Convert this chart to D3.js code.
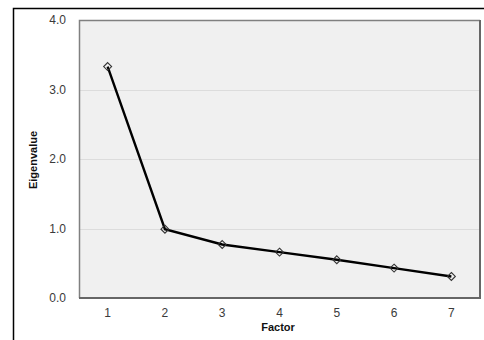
<!DOCTYPE html>
<html lang="en">
  <head>
    <meta charset="UTF-8"/>
    <title>Scree plot</title>
    <script src="https://d3js.org/d3.v7.min.js"></script>
    <style>
        body { margin: 0; background: #fff; }
        svg { display: block; font-family: "Liberation Sans", Arial, sans-serif; }
        .tick text { font-size: 12px; fill: #3a3a3a; }
        .axis path, .axis line { display: none; }
        .grid line { stroke: #dcdcdc; stroke-width: 1; }
        .label { font-size: 11px; font-weight: bold; fill: #111; }
    </style>
  </head>
  <body>
    <script>
        const factors = [1, 2, 3, 4, 5, 6, 7]
        const eigenvalues = [3.33, 0.99, 0.77, 0.66, 0.55, 0.43, 0.31]
        const yTicks = [0, 1, 2, 3, 4]

        const W = 484, H = 340
        const plot = {left: 79, top: 20, right: 480, bottom: 298}

        const svg = d3.select("body").append("svg")
            .attr("width", W)
            .attr("height", H)

        // outer frame (only top & left edges visible in the crop)
        svg.append("path")
            .attr("d", `M13.5,${H} V8.5 H${W}`)
            .attr("fill", "none")
            .attr("stroke", "#000")
            .attr("stroke-width", 1.5)

        const x = d3.scaleBand()
            .domain(factors)
            .range([plot.left, plot.right])

        const y = d3.scaleLinear()
            .domain([0, 4])
            .range([plot.bottom, plot.top])

        // plot area
        svg.append("rect")
            .attr("x", plot.left)
            .attr("y", plot.top)
            .attr("width", plot.right - plot.left)
            .attr("height", plot.bottom - plot.top)
            .attr("fill", "#f0f0f0")

        svg.append("g")
            .attr("class", "grid")
            .selectAll("line")
            .data(yTicks.filter(d => d > 0 && d < 4))
            .join("line")
            .attr("x1", plot.left)
            .attr("x2", plot.right)
            .attr("y1", d => Math.round(y(d)) + 0.5)
            .attr("y2", d => Math.round(y(d)) + 0.5)

        // border: thin top/left, heavier right/bottom
        svg.append("path")
            .attr("d", `M${plot.left + 0.5},${plot.bottom} V${plot.top + 0.5} H${plot.right}`)
            .attr("fill", "none")
            .attr("stroke", "#808080")
            .attr("stroke-width", 1.5)
        svg.append("path")
            .attr("d", `M${plot.left},${plot.bottom} H${plot.right} V${plot.top}`)
            .attr("fill", "none")
            .attr("stroke", "#666")
            .attr("stroke-width", 2)

        svg.append("g")
            .attr("class", "axis")
            .attr("transform", `translate(${plot.left - 10},0)`)
            .call(d3.axisLeft(y).tickValues(yTicks).tickFormat(d3.format(".1f")).tickSize(0))

        svg.append("g")
            .attr("class", "axis")
            .attr("transform", `translate(0,${plot.bottom + 7})`)
            .call(d3.axisBottom(x).tickSize(0))

        const cx = d => x(d) + x.bandwidth() / 2

        const line = d3.line()
            .x((d, i) => cx(factors[i]))
            .y(d => y(d))

        svg.append("path")
            .datum(eigenvalues)
            .attr("fill", "none")
            .attr("stroke", "#000")
            .attr("stroke-width", 2.4)
            .attr("d", line)

        svg.selectAll(".marker")
            .data(eigenvalues)
            .join("path")
            .attr("class", "marker")
            .attr("transform", (d, i) => `translate(${cx(factors[i])},${y(d)})`)
            .attr("d", d3.symbol(d3.symbolDiamond2, 40))
            .attr("fill", "none")
            .attr("stroke", "#333")
            .attr("stroke-width", 1.1)

        svg.append("text")
            .attr("class", "label")
            .attr("transform", "translate(37,160) rotate(-90)")
            .attr("text-anchor", "middle")
            .text("Eigenvalue")

        svg.append("text")
            .attr("class", "label")
            .attr("x", 278)
            .attr("y", 331)
            .attr("text-anchor", "middle")
            .text("Factor")
    </script>
  </body>
</html>
